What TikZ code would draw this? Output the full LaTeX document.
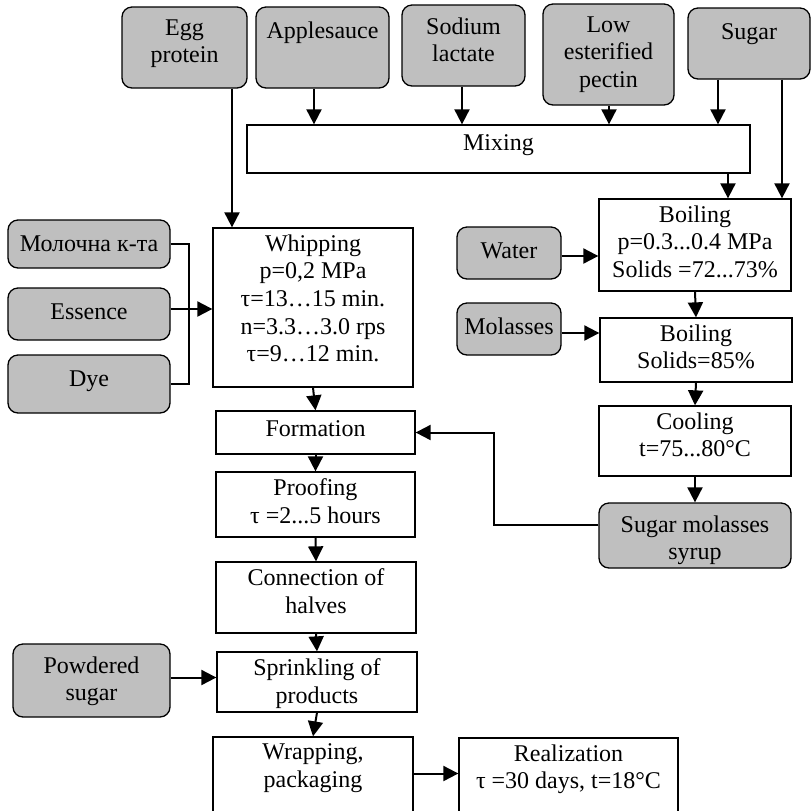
\documentclass[tikz,border=0pt]{standalone}
\usepackage{fontspec}
\setmainfont{Liberation Serif}
\usetikzlibrary{arrows.meta,fit}

\begin{document}
\begin{tikzpicture}[x=0.5pt,y=-0.5pt,line width=0.65pt,
  >={Triangle[length=7.5pt,width=7.5pt]},
  font=\fontsize{12}{13.8}\selectfont,
  raw/.style={draw,fill=black!25,rounded corners=5pt,inner sep=0pt},
  proc/.style={draw,fill=white,inner sep=0pt},
  rawtxt/.style={anchor=north,align=center,inner sep=6.3pt,execute at begin node=\strut},
  proctxt/.style={anchor=north,align=center,inner sep=3.3pt,execute at begin node=\strut},
  flow/.style={->,line width=1pt},
  tieline/.style={line width=0.7pt}]
\useasboundingbox (0,0) rectangle (811,811);
\clip (0,0) rectangle (811,811);
% ---------- 顶部原料 ----------
\node[raw,fit={(122,7) (247,88)},label={[rawtxt]north:{Egg\\protein}}] (egg) {};
\node[raw,fit={(256,7) (389,88)},label={[rawtxt]north:{Applesauce}}] (apple) {};
\node[raw,fit={(402,5) (525,86)},label={[rawtxt]north:{Sodium\\lactate}}] (lactate) {};
\node[raw,fit={(543,4) (674,105)},label={[rawtxt]north:{Low\\esterified\\pectin}}] (pectin) {};
\node[raw,fit={(688,8) (810,79)},label={[rawtxt]north:{Sugar}}] (sugar) {};
\node[proc,fit={(247,125) (750,173)},label={[proctxt]north:{Mixing}}] (mix) {};
\draw[flow] (apple.south -| 314,0) -- (mix.north -| 314,0);
\draw[flow] (lactate.south -| 462,0) -- (mix.north -| 462,0);
\draw[flow] (pectin.south -| 609,0) -- (mix.north -| 609,0);
\draw[flow] (sugar.south -| 718,0) -- (mix.north -| 718,0);
% ---------- 糖浆线 ----------
\node[proc,fit={(599,199) (791,291)},label={[proctxt]north:{Boiling\\p=0.3...0.4 MPa\\Solids =72...73\%}}] (boil1) {};
\node[raw,fit={(457,227) (561,279)},label={[rawtxt]north:{Water}}] (water) {};
\node[proc,fit={(600,318) (792,382)},label={[proctxt]north:{Boiling\\Solids=85\%}}] (boil2) {};
\node[raw,fit={(457,303) (561,355)},label={[rawtxt]north:{Molasses}}] (molasses) {};
\node[proc,fit={(599,406) (791,476)},label={[proctxt]north:{Cooling\\t=75...80°C}}] (cool) {};
\node[raw,fit={(599,503) (791,568)},label={[rawtxt]north:{Sugar molasses\\syrup}}] (syrup) {};
\draw[flow] (mix.south -| 728,0) -- (boil1.north -| 728,0);
\draw[flow] (sugar.south -| 782,0) -- (boil1.north -| 782,0);
\draw[flow] ([yshift=-1.5pt]water.east) -- ([yshift=-1.5pt]water.east -| boil1.west);
\draw[flow] ([yshift=-2pt]molasses.east) -- ([yshift=-2pt]molasses.east -| boil2.west);
\draw[flow] (boil1.south) -- (boil2.north);
\draw[flow] (boil2.south) -- (cool.north);
\draw[flow] (cool.south) -- (syrup.north);
% ---------- 打发与成型 ----------
\node[raw,fit={(8,220) (170,268)},label={[rawtxt]north:{Молочна к-та}}] (milk) {};
\node[raw,fit={(8,288) (170,340)},label={[rawtxt]north:{Essence}}] (essence) {};
\node[raw,fit={(8,355) (170,413)},label={[rawtxt]north:{Dye}}] (dye) {};
\node[proc,fit={(213,228) (413,387)},label={[proctxt]north:{Whipping\\p=0,2 MPa\\τ=13…15 min.\\n=3.3…3.0 rps\\τ=9…12 min.}}] (whip) {};
\node[proc,fit={(216,411) (415,454)},label={[proctxt]north:{Formation}}] (form) {};
\node[proc,fit={(216,472) (415,537)},label={[proctxt]north:{Proofing\\τ =2...5 hours}}] (proof) {};
\node[proc,fit={(216,562) (416,633)},label={[proctxt]north:{Connection of\\halves}}] (halves) {};
\node[raw,fit={(13,644) (170,717)},label={[rawtxt]north:{Powdered\\sugar}}] (powder) {};
\node[proc,fit={(217,652) (417,712)},label={[proctxt]north:{Sprinkling of\\products}}] (sprinkle) {};
\node[proc,fit={(213,737) (413,830)},label={[proctxt]north:{Wrapping,\\packaging}}] (wrap) {};
\node[proc,fit={(459,738) (678,830)},label={[proctxt]north:{Realization\\τ =30 days, t=18°C}}] (sale) {};
\draw[flow] (egg.south -| 232,0) -- (whip.north -| 232,0);
\draw[tieline] (milk.east) -| (189,0 |- dye.east) -- (dye.east);
\draw[flow] ([yshift=2.5pt]essence.east) -- ([yshift=2.5pt]essence.east -| whip.west);
\draw[flow] (whip.south) -- (form.north);
\draw[flow] (form.south) -- (proof.north);
\draw[flow] (proof.south) -- (halves.north);
\draw[flow] (halves.south) -- (sprinkle.north);
\draw[flow] (sprinkle.south) -- (wrap.north);
\draw[flow] ([yshift=1.5pt]powder.east) -- ([yshift=1.5pt]powder.east -| sprinkle.west);
\draw[flow] ([yshift=5pt]wrap.east) -- ([yshift=5pt]wrap.east -| sale.west);
% 糖浆回流到成型
\draw[flow] ([yshift=5.25pt]syrup.west) -| (494,0 |- form.east) -- (form.east);
\end{tikzpicture}
\end{document}
